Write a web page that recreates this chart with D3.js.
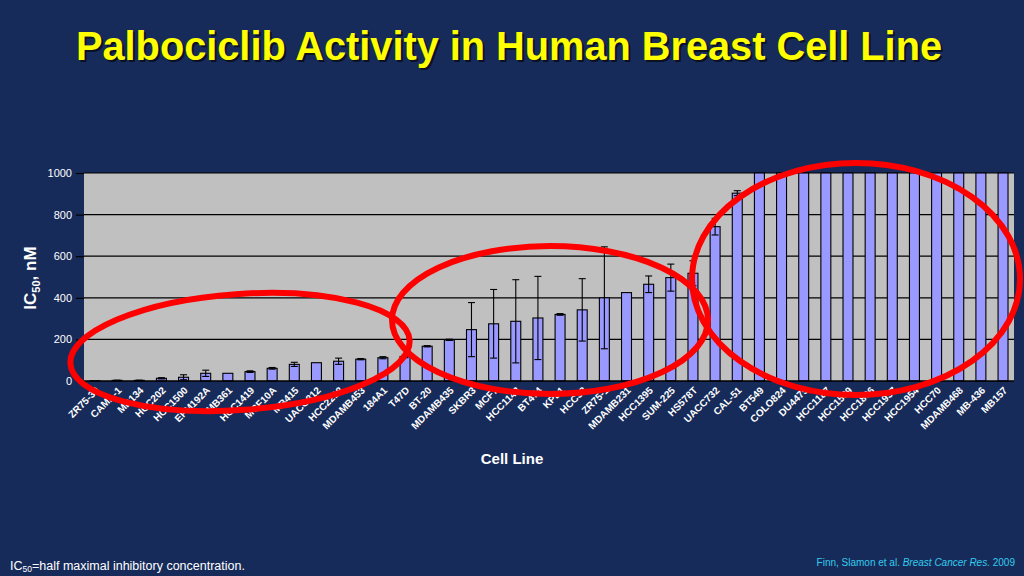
<!DOCTYPE html>
<html><head><meta charset="utf-8">
<script src="https://cdn.jsdelivr.net/npm/d3@7"></script>
<style>html,body{margin:0;padding:0;background:#172b5a;}svg{display:block;}</style>
</head><body>
<svg id="c" width="1024" height="576"></svg>
<script>
const cellLines = ["ZR75-30","CAMA-1","MB134","HCC202","HCC1500","EFM192A","MB361","HCC1419","MCF10A","MB415","UACC812","HCC2218","MDAMB453","184A1","T47D","BT-20","MDAMB435","SKBR3","MCF7","HCC1143","BT474","KPL1","HCC38","ZR75-1","MDAMB231","HCC1395","SUM-225","HS578T","UACC732","CAL-51","BT549","COLO824","DU4475","HCC1187","HCC1569","HCC1806","HCC1937","HCC1954","HCC70","MDAMB468","MB-436","MB157"];
const ic50 = [1,3,3,13,18,37,37,45,61,80,88,95,105,112,118,167,198,247,275,287,303,320,342,400,425,465,497,518,742,903,1000,1000,1000,1000,1000,1000,1000,1000,1000,1000,1000,1000];
const errs = [0,1,1,3,12,15,0,4,4,10,0,15,3,5,6,3,3,130,165,200,200,4,150,245,0,40,65,60,40,12,0,0,0,0,0,0,0,0,0,0,0,0];
const yTicks = [0,200,400,600,800,1000];

const svg = d3.select("#c");
const W=1024,H=576;
svg.append("rect").attr("width",W).attr("height",H).attr("fill","#172b5a");

const m = {l:84, r:1014, t:173, b:381};
const x = d3.scaleBand().domain(cellLines).range([m.l,m.r]).paddingInner(0.55).paddingOuter(0.27);
const y = d3.scaleLinear().domain([0,1000]).range([m.b,m.t]);

// plot area
svg.append("rect").attr("x",m.l).attr("y",m.t).attr("width",m.r-m.l).attr("height",m.b-m.t).attr("fill","#c0c0c0");
// gridlines
svg.append("g").selectAll("line").data(yTicks.filter(d=>d>0)).join("line")
  .attr("x1",m.l).attr("x2",m.r).attr("y1",d=>y(d)).attr("y2",d=>y(d))
  .attr("stroke","#000").attr("stroke-width",1.2);

// bars
svg.append("g").selectAll("rect").data(cellLines).join("rect")
  .attr("x",d=>x(d)).attr("width",x.bandwidth())
  .attr("y",(d,i)=>y(ic50[i])).attr("height",(d,i)=>y(0)-y(ic50[i]))
  .attr("fill","#9999ff").attr("stroke","#000").attr("stroke-width",1.1);

// error bars
const eg = svg.append("g").attr("stroke","#000").attr("stroke-width",1.1);
cellLines.forEach((c,i)=>{
  if(!errs[i]) return;
  const cx = x(c)+x.bandwidth()/2;
  const top = y(ic50[i]+errs[i]), bot = y(Math.max(0,ic50[i]-errs[i]));
  eg.append("line").attr("x1",cx).attr("x2",cx).attr("y1",top).attr("y2",bot);
  eg.append("line").attr("x1",cx-3.5).attr("x2",cx+3.5).attr("y1",top).attr("y2",top);
  eg.append("line").attr("x1",cx-3.5).attr("x2",cx+3.5).attr("y1",bot).attr("y2",bot);
});

// x axis baseline
svg.append("line").attr("x1",m.l-8).attr("x2",m.r).attr("y1",m.b).attr("y2",m.b).attr("stroke","#000").attr("stroke-width",1.5);

// y axis
const ya = svg.append("g").attr("transform",`translate(${m.l},0)`)
  .call(d3.axisLeft(y).tickValues(yTicks).tickFormat(d3.format("d")).tickSize(8).tickPadding(4));
ya.select(".domain").remove();
ya.selectAll("line").attr("stroke","#000").attr("stroke-width",1.2);
ya.selectAll("text").attr("fill","#fff").style("font-family","Liberation Sans, Arial, sans-serif").style("font-size","11px");

// x labels
svg.append("g").selectAll("text").data(cellLines).join("text")
  .attr("transform",d=>`translate(${x(d)+x.bandwidth()/2+5},${m.b+10}) rotate(-45)`)
  .attr("text-anchor","end")
  .attr("fill","#fff").style("font-family","Liberation Sans, Arial, sans-serif")
  .style("font-size","10px").style("font-weight","bold").text(d=>d);

// axis titles
svg.append("text").attr("x",512).attr("y",464).attr("text-anchor","middle")
  .attr("fill","#fff").style("font-family","Liberation Sans, Arial, sans-serif").style("font-size","15px").style("font-weight","bold").text("Cell Line");
const yt = svg.append("text").attr("transform","translate(36,278) rotate(-90)").attr("text-anchor","middle")
  .attr("fill","#fff").style("font-family","Liberation Sans, Arial, sans-serif").style("font-size","17px").style("font-weight","bold");
yt.append("tspan").text("IC");
yt.append("tspan").attr("font-size","11px").attr("dy","4").text("50");
yt.append("tspan").attr("dy","-4").text(", nM");

// red ellipses annotations
const ell = svg.append("g").attr("fill","none").attr("stroke","#ff0000").attr("stroke-width",6);
ell.append("ellipse").attr("cx",240).attr("cy",352).attr("rx",170).attr("ry",58).attr("transform","rotate(-4,240,352)");
ell.append("ellipse").attr("cx",550).attr("cy",320).attr("rx",158).attr("ry",74);
ell.append("ellipse").attr("cx",856).attr("cy",279).attr("rx",164).attr("ry",116);

// title
const titleFont = "Liberation Sans Narrow, Arial Narrow, Liberation Sans, Arial, sans-serif";
[["#000",0.6,2],["#ffff00",1,0]].forEach(([col,op,off])=>{
  svg.append("text").attr("x",509+off).attr("y",60+off).attr("text-anchor","middle")
    .attr("fill",col).attr("opacity",op)
    .attr("textLength",866).attr("lengthAdjust","spacingAndGlyphs")
    .style("font-family",titleFont).style("font-size","41px").style("font-weight","bold")
    .text("Palbociclib Activity in Human Breast Cell Line");
});

// footnotes
const fn = svg.append("text").attr("x",10).attr("y",570).attr("fill","#fff")
  .style("font-family","Liberation Sans, Arial, sans-serif").style("font-size","12.5px");
fn.append("tspan").text("IC");
fn.append("tspan").attr("font-size","8.5px").attr("dy","2").text("50");
fn.append("tspan").attr("dy","-2").text("=half maximal inhibitory concentration.");

const src = svg.append("text").attr("x",1015).attr("y",566).attr("text-anchor","end").attr("fill","#33ccee")
  .style("font-family","Liberation Sans, Arial, sans-serif").style("font-size","10px");
src.append("tspan").text("Finn, Slamon et al. ");
src.append("tspan").style("font-style","italic").text("Breast Cancer Res.");
src.append("tspan").text(" 2009");
</script>
</body></html>
